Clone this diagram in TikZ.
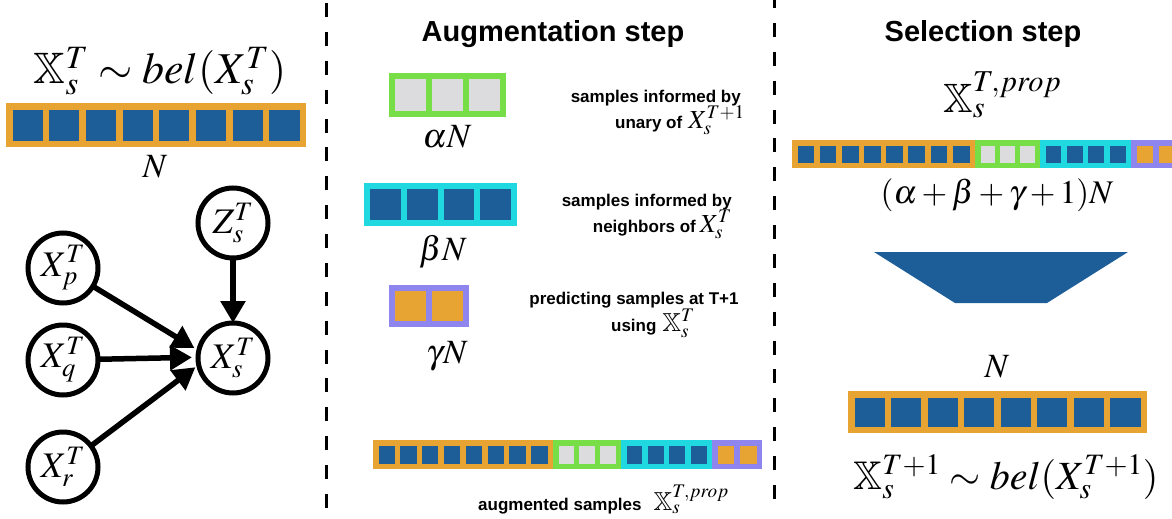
\documentclass[tikz,border=0pt]{standalone}
\usepackage{mathptmx}
\usepackage{amssymb}
\usepackage[no-math]{fontspec}
\newfontfamily\hel{Liberation Sans}
\usetikzlibrary{arrows.meta}
\definecolor{cblue}{RGB}{29,94,152}
\definecolor{corange}{RGB}{232,164,50}
\definecolor{cgreen}{RGB}{120,222,72}
\definecolor{ccyan}{RGB}{32,216,224}
\definecolor{cpurple}{RGB}{142,134,238}
\definecolor{cgray}{RGB}{220,220,222}
\newcommand{\barseg}[8]{%
  \fill[#6] (#1,#3) rectangle (#2,#4);
  \pgfmathsetmacro{\myBsp}{(#2-#1-#8)/#5}%
  \foreach \i in {1,...,#5}{%
    \fill[#7] ({#1+#8+(\i-1)*\myBsp},{#3+#8}) rectangle ({#1+\i*\myBsp},{#4-#8});
  }%
}
\newcommand{\dm}[1]{{\fontsize{26}{26}\selectfont$#1$}}
\tikzset{
  gnode/.style={circle,draw,line width=5pt,minimum size=70pt,inner sep=0pt,outer sep=0pt,fill=white,font=\fontsize{36}{36}\selectfont},
  garrow/.style={line width=5.5pt,-{Triangle[length=22pt,width=24pt]}},
  title/.style={inner sep=0pt,font=\hel\bfseries\fontsize{29}{30}\selectfont},
  desc/.style={inner sep=0pt,font=\hel\bfseries\fontsize{17}{18}\selectfont},
  bigmath/.style={inner sep=0pt,font=\fontsize{44}{44}\selectfont},
  midmath/.style={inner sep=0pt,font=\fontsize{34}{34}\selectfont},
  divider/.style={line width=3pt,dash pattern=on 14pt off 14.875pt},
}
\begin{document}
\begin{tikzpicture}[x=1pt,y=-1pt]
\useasboundingbox (0,0) rectangle (1172,519);
\clip (0,0) rectangle (1172,519);
% dividers
\coordinate (d1a) at (326,3); \coordinate (d1b) at (326,508);
\coordinate (d2a) at (774,-6); \coordinate (d2b) at (774,499);
\draw[divider] (d1a) -- (d1b);
\draw[divider] (d2a) -- (d2b);
% ---------- left panel
\node[bigmath,anchor=base] (bel) at (160,84) {$\mathbb{X}_s^T \sim bel(X_s^T)$};
\barseg{6}{306}{103}{147}{8}{corange}{cblue}{6.5}
\node[midmath,anchor=base] (nl) at (155,177) {$N$};
\node[gnode] (zs) at (233,223) {$Z_s^T$};
\node[gnode] (xs) at (233,358) {$X_s^T$};
\node[gnode] (xp) at (63,268) {$X_p^T$};
\node[gnode] (xq) at (63,360) {$X_q^T$};
\node[gnode] (xr) at (63,467) {$X_r^T$};
\coordinate (conv) at (209,357);
\draw[garrow,shorten >=17pt] (xp) -- (conv);
\draw[garrow,shorten >=17pt] (xq) -- (conv);
\draw[garrow,shorten >=17pt] (xr) -- (conv);
\draw[garrow] (zs) -- (xs);
% ---------- middle panel
\node[title,anchor=base] (aug) at (553,42) {Augmentation step};
\barseg{389}{506}{73}{117}{3}{cgreen}{cgray}{6}
\node[midmath,anchor=base] (an) at (447,147) {$\alpha N$};
\node[desc,anchor=base east] (a1) at (741,102) {samples informed by};
\node[desc,anchor=base east] (a2) at (745,128) {unary of\hspace{6pt}\dm{X_s^{T+1}}};
\barseg{364}{517}{183}{226}{4}{ccyan}{cblue}{6}
\node[midmath,anchor=base] (bn) at (443,260) {$\beta N$};
\node[desc,anchor=base east] (b1) at (732,206) {samples informed by};
\node[desc,anchor=base east] (b2) at (732,232) {neighbors of\hspace{4pt}\dm{X_s^T}};
\barseg{389}{469}{285}{327}{2}{cpurple}{corange}{6}
\node[midmath,anchor=base] (gn) at (447,363) {$\gamma N$};
\node[desc,anchor=base] (g1) at (634,304) {predicting samples at T+1};
\node[desc,anchor=base] (g2) at (653,331) {using\hspace{6pt}\dm{\mathbb{X}_s^T}};
\barseg{373}{553}{440}{469}{8}{corange}{cblue}{5.5}
\barseg{553}{621}{440}{469}{3}{cgreen}{cgray}{5.5}
\barseg{621}{712}{440}{469}{4}{ccyan}{cblue}{5.5}
\barseg{712}{762}{440}{469}{2}{cpurple}{corange}{5.5}
\node[desc,anchor=base west] (augs) at (478,510) {augmented samples\hspace{12pt}\dm{\mathbb{X}_s^{T,prop}}};
% ---------- right panel
\node[title,anchor=base] (sel) at (983,42) {Selection step};
\node[bigmath,anchor=base west] (xprop) at (943,112) {\fontsize{41}{41}\selectfont$\mathbb{X}_s^{T,prop}$};
\barseg{792}{975}{140}{168}{8}{corange}{cblue}{5.5}
\barseg{975}{1040}{140}{168}{3}{cgreen}{cgray}{5.5}
\barseg{1040}{1131}{140}{168}{4}{ccyan}{cblue}{5.5}
\barseg{1131}{1181}{140}{168}{2}{cpurple}{corange}{5.5}
\node[midmath,anchor=base] (sum) at (997,203) {\fontsize{33}{33}\selectfont$(\alpha+\beta+\gamma+1)N$};
\fill[cblue] (874,252) -- (1128,252) -- (1047,303) -- (955,303) -- cycle;
\node[midmath,anchor=base] (nr) at (997,377) {$N$};
\barseg{848}{1147}{391}{433}{8}{corange}{cblue}{6.5}
\node[midmath,anchor=base] (belr) at (1006,489) {\fontsize{40}{40}\selectfont$\mathbb{X}_s^{T+1} \sim bel(X_s^{T+1})$};
\end{tikzpicture}
\end{document}
